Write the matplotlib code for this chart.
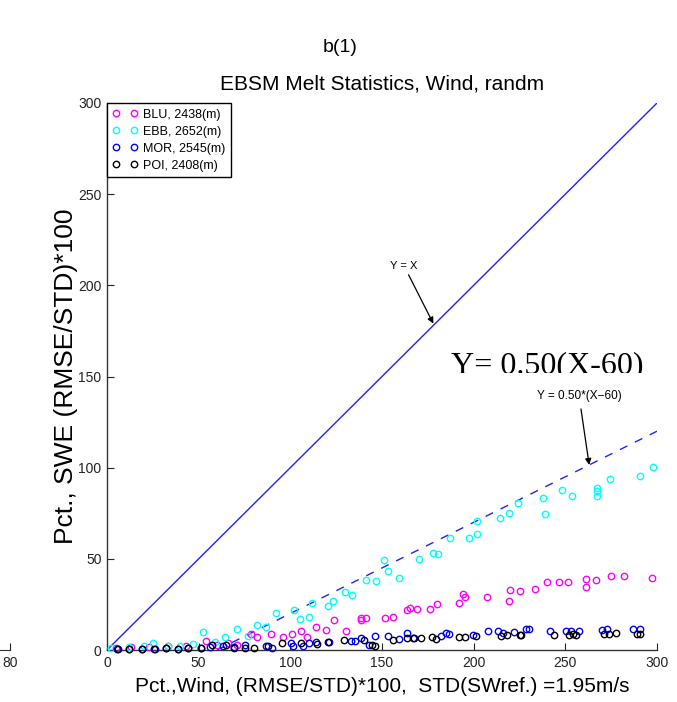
import matplotlib
matplotlib.use("Agg")
import matplotlib.pyplot as plt
from matplotlib.patches import Rectangle
import numpy as np

plt.rcParams['font.family'] = ['Liberation Sans', 'DejaVu Sans']

# ---------------- data ----------------
blu_x = [5, 13, 23, 33, 43, 54, 60, 66, 71, 78.5, 82, 89.5, 96, 100.7, 106, 109, 114, 119.7, 124,
         130.4, 138.5, 138.5, 141, 151.8, 156, 163.8, 165.3, 169, 176.4, 180, 192, 194.4, 195, 207,
         219.3, 220, 225, 233.3, 240, 246.5, 251.5, 261.3, 261.4, 266.5, 275, 282, 297]
blu_y = [1, 1.8, 1.5, 2.4, 2, 4.8, 2.5, 4, 2.7, 9, 7, 9, 7.3, 8.6, 10.4, 7, 12.8, 10.7, 16.6,
         10.6, 17.7, 16.3, 17.7, 17.4, 18, 22, 23.2, 22.3, 22.5, 25.2, 26, 30.9, 29, 29,
         27, 32.7, 32.5, 33.5, 37.1, 37.5, 37.5, 38.8, 34.7, 38.2, 40.8, 40.8, 39.7]

ebb_x = [2, 12, 20, 25, 33, 40, 47, 52.5, 58.7, 64.4, 70.7, 77, 82, 86.6, 92.4, 102, 105, 110, 112,
         120.7, 123.5, 129.6, 133.8, 141, 146.5, 151, 153, 159, 170.4, 178, 180.4, 187, 197.5, 202,
         202, 214.4, 219, 224, 237.8, 239, 248.4, 253.5, 267, 267.5, 267.5, 274.4, 290.5, 297.7]
ebb_y = [1, 1.5, 2.4, 3.7, 2.4, 2.2, 3.3, 10, 4.6, 7, 11.5, 7.7, 13.7, 12.4, 20.5, 22, 17.2, 18, 25.6,
         24, 26.7, 31.8, 30, 38.4, 38, 49.4, 43.5, 39.3, 50, 53.4, 52.5, 61.3, 61.6, 63.8,
         70.7, 72.2, 75.3, 80.6, 83.4, 74.8, 87.8, 84.5, 88.7, 87.2, 84.5, 94, 95.4, 100.4]

mor_x = [5.6, 12, 19, 26, 32, 38.7, 44.4, 51.4, 56, 63.5, 69, 75, 86.7, 90, 100.4, 101.5, 107, 110,
         114, 121, 133, 135, 138.4, 143, 146, 153.5, 159.5, 163.5, 167, 182, 185, 186.6, 199.8, 208,
         213, 216, 222, 228.4, 230.4, 241.6, 250.4, 253, 257.6, 269.8, 272.5, 287, 290.9]
mor_y = [0.8, 0.8, 0.8, 0.8, 1, 0.8, 1.2, 1.3, 1.5, 2, 1.5, 2.7, 2, 1, 3.7, 2, 2.2, 4,
         4.6, 4.6, 5, 5, 6.4, 2.5, 7.5, 7.9, 5.9, 9.1, 6.4, 7.7, 9.1, 8.6, 8.2, 10.2,
         10.4, 9.4, 9.7, 11.3, 11.3, 10.4, 10.4, 10.4, 10.4, 11, 11.3, 11.5, 11.5]

poi_x = [5.8, 12, 19, 25.7, 32, 38.5, 44.2, 51.2, 57, 65, 69.5, 75, 80.4, 88, 95.3, 106, 114.5, 120.3,
         129, 140, 144.5, 146, 156, 163.5, 167.6, 171, 177, 179.5, 192, 195, 201, 214.7, 218.4, 225,
         226, 243.6, 252, 254, 256, 271, 274, 277.6, 289, 290.5]
poi_y = [0.7, 0.7, 0.7, 0.7, 0.9, 0.7, 1, 1.2, 2.7, 3, 1.2, 1, 1, 2.3, 3.7, 3.7, 3.5, 4.6,
         5.5, 5.5, 3, 2, 5.5, 6.4, 6.4, 6.4, 7, 6, 7, 7.3, 7.5, 7.9, 8.2, 8.5,
         8, 8, 8.3, 8.7, 8.5, 8.7, 8.7, 9.1, 9, 8.7]

series = [
    ("BLU, 2438(m)", blu_x, blu_y, "#ff00ff"),
    ("EBB, 2652(m)", ebb_x, ebb_y, "#00ffff"),
    ("MOR, 2545(m)", mor_x, mor_y, "#0000ff"),
    ("POI, 2408(m)", poi_x, poi_y, "#000000"),
]

fit_slope = 0.50
fit_offset = 60
axis_max = 300
ticks = [0, 50, 100, 150, 200, 250, 300]
neighbour_xmax = 80

# ---------------- figure ----------------
W, H = 677, 702
fig = plt.figure(figsize=(W / 100, H / 100), dpi=100)

# neighbouring (clipped) panel on the left
axn = fig.add_axes([-0.79, 1 - 650 / H, 0.79 + 10 / W, 0.78])
axn.set_xlim(0, neighbour_xmax)
axn.set_ylim(0, axis_max)
axn.set_xticks([neighbour_xmax])
axn.set_yticks([])
for s in ['top', 'right', 'left']:
    axn.spines[s].set_visible(False)
axn.spines['bottom'].set_color('#333333')
axn.tick_params(axis='x', direction='in', length=5, labelsize=10, colors='#222222', pad=4)
axn.patch.set_alpha(0)

ax = fig.add_axes([107 / W, 1 - 650 / H, 550 / W, 547 / H])

for label, xs, ys, c in series:
    ax.plot(xs, ys, linestyle='none', marker='o', mfc='none', mec=c, ms=4.6, mew=1.0,
            label=label, clip_on=False, zorder=3)

lx = np.array([0, axis_max])
ax.plot(lx, lx, color='#2222ee', lw=1.0, zorder=2)
dx = np.array([fit_offset, axis_max])
ax.plot(dx, fit_slope * (dx - fit_offset), color='#2222ee', lw=1.0,
        linestyle=(0, (6, 6)), zorder=2)

ax.set_xlim(0, axis_max)
ax.set_ylim(0, axis_max)
ax.set_xticks(ticks)
ax.set_yticks(ticks)
for s in ['top', 'right']:
    ax.spines[s].set_visible(False)
for s in ['left', 'bottom']:
    ax.spines[s].set_color('#333333')
    ax.spines[s].set_linewidth(1.0)
ax.tick_params(direction='in', length=5, labelsize=10, colors='#222222', pad=4)

ax.set_xlabel("Pct.,Wind, (RMSE/STD)*100,  STD(SWref.) =1.95m/s", fontsize=15, labelpad=5)
ax.set_ylabel("Pct., SWE (RMSE/STD)*100", fontsize=19, labelpad=0)
ax.set_title("EBSM Melt Statistics, Wind, randm", fontsize=15, pad=10)
fig.text(340 / W, 1 - 48 / H, "b(1)", ha='center', va='center', fontsize=14)

# annotations
ax.annotate("Y = X", xy=(178, 179), xytext=(162, 208), fontsize=8,
            ha='center', va='bottom',
            arrowprops=dict(arrowstyle='-|>', color='black', lw=0.9, mutation_scale=9,
                            shrinkA=1, shrinkB=0))
ax.annotate("Y = 0.50*(X\u221260)", xy=(263, 101.5), xytext=(257.5, 136), fontsize=8.5,
            ha='center', va='bottom',
            arrowprops=dict(arrowstyle='-|>', color='black', lw=0.9, mutation_scale=9,
                            shrinkA=3, shrinkB=0))
big = ax.text(187.5, 152, "Y= 0.50(X-60)", fontsize=23, family='Liberation Serif',
              ha='left', va='baseline')
clip_rect = Rectangle((0, 1 - 373 / H), 1, 1, transform=fig.transFigure)
big.set_clip_on(True)
big.set_clip_path(clip_rect)

leg = ax.legend(loc='upper left', numpoints=2, frameon=True, fancybox=False,
                prop={'size': 9},
                edgecolor='black', framealpha=1, borderaxespad=0, handlelength=2.0,
                handletextpad=0.4, labelspacing=0.4, borderpad=0.45)
leg.get_frame().set_linewidth(1.0)

fig.savefig("out.png", dpi=100)
